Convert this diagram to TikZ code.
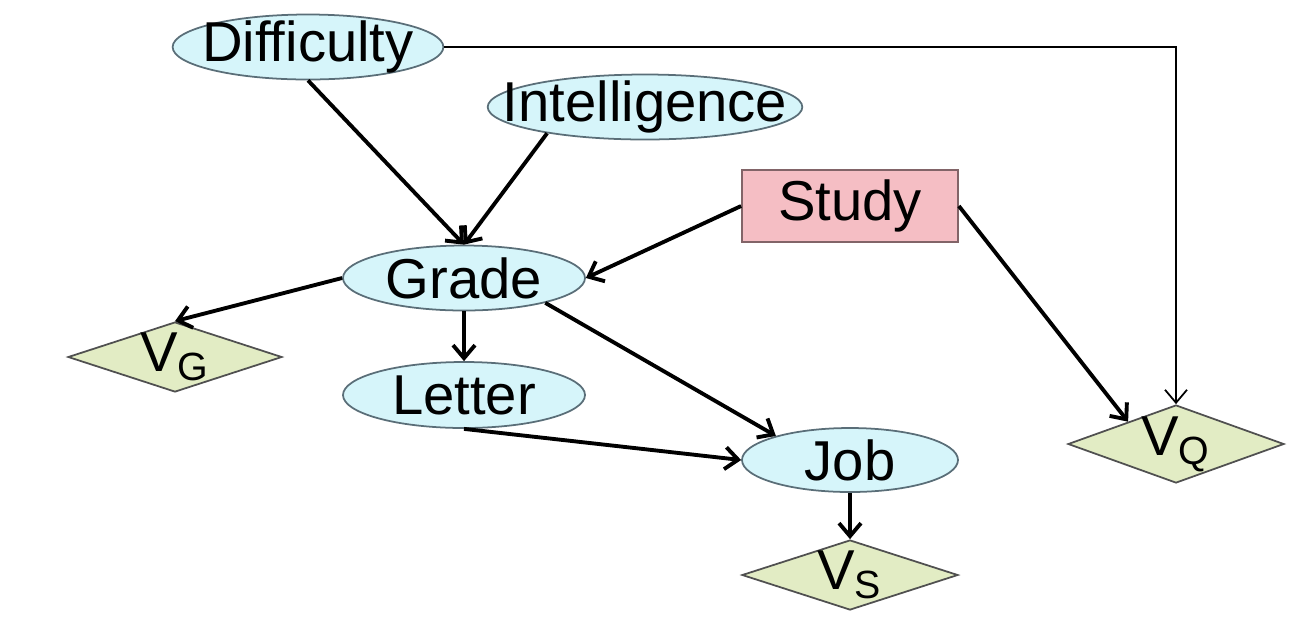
\documentclass[tikz,border=0pt]{standalone}
\usepackage{fontspec}
\setmainfont{Liberation Sans}
\usetikzlibrary{shapes.geometric,arrows.meta}
\definecolor{ovalfill}{RGB}{214,245,250}
\definecolor{ovalline}{RGB}{90,110,120}
\definecolor{studyfill}{RGB}{245,190,196}
\definecolor{studyline}{RGB}{130,100,104}
\definecolor{utilfill}{RGB}{226,236,196}
\definecolor{utilline}{RGB}{80,80,80}
\begin{document}
\begin{tikzpicture}[
	font=\fontsize{16}{19}\selectfont,
	chance/.style={ellipse, draw=ovalline, line width=0.5pt, fill=ovalfill, inner xsep=0pt, inner ysep=-0.6mm},
	decision/.style={rectangle, draw=studyline, line width=0.5pt, fill=studyfill, inner sep=0pt, minimum width=2.16cm, minimum height=0.72cm},
	utility/.style={diamond, aspect=3.5, draw=utilline, line width=0.5pt, fill=utilfill, inner sep=-0.6mm, minimum width=2.16cm, minimum height=0.70cm},
	link/.style={line width=1.1pt, -{Straight Barb[length=1.3mm,width=2.2mm]}},
	info/.style={line width=0.5pt, -{Straight Barb[length=1.3mm,width=2.2mm]}}
	]
	\useasboundingbox (0,0) rectangle (13.02,6.25);
	\node[chance, inner xsep=-1mm, minimum width=2.63cm, minimum height=0.65cm] (diff) at (3.08,5.78) {Difficulty};
	\node[chance, inner xsep=-3.1mm, minimum width=3.14cm, minimum height=0.65cm] (intel) at (6.45,5.18) {Intelligence};
	\node[decision] (study) at (8.50,4.19) {Study};
	\node[chance, minimum width=2.42cm, minimum height=0.65cm] (grade) at (4.64,3.47) {Grade};
	\node[chance, minimum width=2.42cm, minimum height=0.66cm] (letter) at (4.64,2.30) {Letter};
	\node[chance, minimum width=2.16cm, minimum height=0.64cm] (job) at (8.50,1.65) {Job};
	\node[utility, minimum width=2.14cm] (vg) at (1.75,2.68) {V\textsubscript{G}};
	\node[utility, minimum height=0.78cm] (vq) at (11.76,1.81) {V\textsubscript{Q}};
	\node[utility] (vs) at (8.50,0.50) {V\textsubscript{S}};
	% arcs
	\draw[link] (diff.south) -- (grade.north);
	\draw[link] (intel.195) -- (grade.north);
	\draw[link] (study.west) -- (grade.east);
	\draw[link] (grade.west) -- (vg.north);
	\draw[link] (grade.south) -- (letter.north);
	\draw[link] (grade.-17) -- (job.162);
	\draw[link] (letter.south) -- (job.west);
	\draw[link] (job.south) -- (vs.north);
	\draw[link] (study.east) -- (vq.155);
	\draw[info] (diff.east) -| (vq.north);
\end{tikzpicture}
\end{document}
